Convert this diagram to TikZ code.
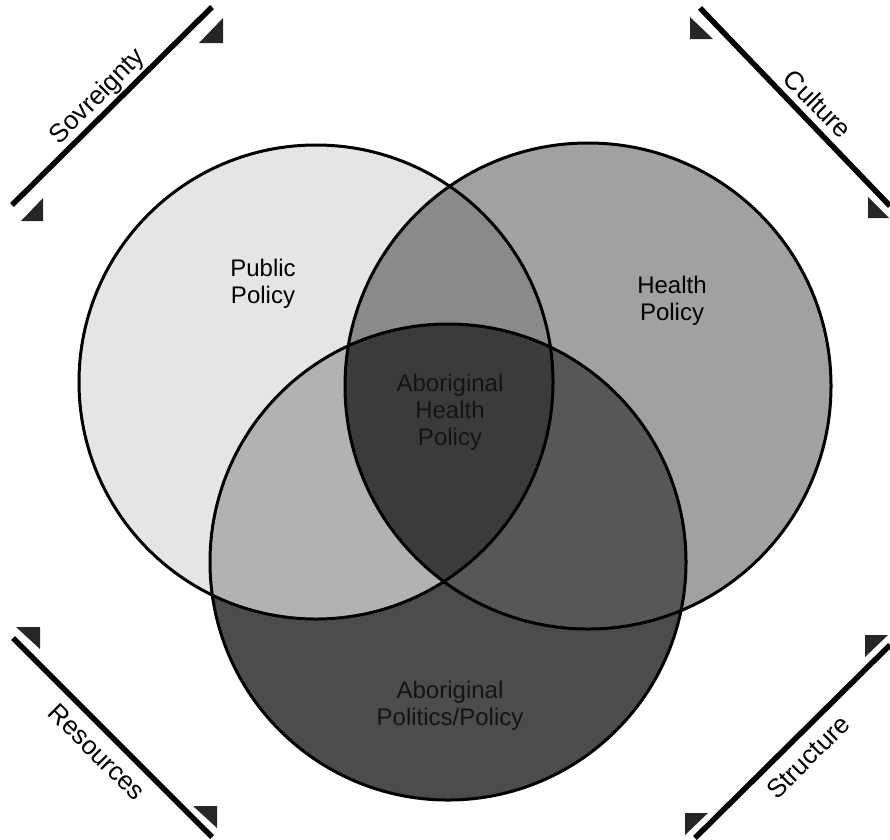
\documentclass[tikz,border=0pt]{standalone}
\usepackage{fontspec}
\setmainfont{Liberation Sans}
\definecolor{pubc}{gray}{0.90}
\definecolor{healc}{gray}{0.63}
\definecolor{botc}{gray}{0.30}
\definecolor{pbc}{gray}{0.70}
\definecolor{hbc}{gray}{0.34}
\definecolor{phc}{gray}{0.54}
\definecolor{phbc}{gray}{0.23}
\definecolor{bartxt}{gray}{0.08}
\tikzset{
  ring/.style={circle, draw=black, line width=3pt, inner sep=0pt},
  lbl/.style={align=center, font=\fontsize{24}{27}\selectfont, text=black},
  dlbl/.style={align=center, font=\fontsize{24}{27}\selectfont, text=bartxt},
  bar/.style={line width=5.5pt, black},
  tip/.style={fill=black!85},
  side/.style={font=\fontsize{26}{28}\selectfont, inner sep=1pt}
}
\begin{document}
\begin{tikzpicture}[x=1pt,y=-1pt]
\useasboundingbox (0,0) rectangle (890,839);
% centres
\coordinate (cp) at (316,382);
\coordinate (ch) at (588,386);
\coordinate (cb) at (448,562);
% base fills
\fill[pubc] (cp) circle[radius=237pt];
\fill[healc] (ch) circle[radius=243pt];
\fill[botc] (cb) circle[radius=238pt];
% overlaps
\begin{scope}
  \clip (cp) circle[radius=237pt];
  \fill[pbc] (cb) circle[radius=238pt];
  \fill[phc] (ch) circle[radius=243pt];
\end{scope}
\begin{scope}
  \clip (ch) circle[radius=243pt];
  \fill[hbc] (cb) circle[radius=238pt];
\end{scope}
\begin{scope}
  \clip (cp) circle[radius=237pt];
  \clip (ch) circle[radius=243pt];
  \fill[phbc] (cb) circle[radius=238pt];
\end{scope}
% outlines
\node[ring, minimum size=474pt] (pub) at (cp) {};
\node[ring, minimum size=486pt] (hea) at (ch) {};
\node[ring, minimum size=476pt] (bot) at (cb) {};
% texts
\node[lbl] (tpub) at (263,284) {Public\\Policy};
\node[lbl] (thea) at (672,301) {Health\\Policy};
\node[dlbl] (tabh) at (450,412) {Aboriginal\\Health\\Policy};
\node[dlbl] (tabp) at (450,706) {Aboriginal\\Politics/Policy};
% corner bars
\coordinate (s1) at (12,205);
\coordinate (s2) at (212,7);
\draw[bar] (s1) -- (s2);
\fill[tip] (223,18) -- (223,43) -- (199,43) -- cycle;
\fill[tip] (21,221) -- (43,198) -- (43,221) -- cycle;
\node[side, rotate=45] (tsov) at (98,97) {Sovreignty};
\coordinate (c1) at (700,8);
\coordinate (c2) at (890,206);
\draw[bar] (c1) -- (c2);
\fill[tip] (690,17) -- (690,39) -- (713,39) -- cycle;
\fill[tip] (868,197) -- (868,218) -- (889,218) -- cycle;
\node[side, rotate=-45] (tcul) at (818,104) {Culture};
\coordinate (r1) at (13,638);
\coordinate (r2) at (212,837);
\draw[bar] (r1) -- (r2);
\fill[tip] (16,627) -- (40,627) -- (40,649) -- cycle;
\fill[tip] (193,806) -- (217,806) -- (217,828) -- cycle;
\node[side, rotate=-45] (tres) at (97,752) {Resources};
\coordinate (t1) at (695,838);
\coordinate (t2) at (890,645);
\draw[bar] (t1) -- (t2);
\fill[tip] (865,635) -- (888,635) -- (865,657) -- cycle;
\fill[tip] (685,813) -- (708,813) -- (685,835) -- cycle;
\node[side, rotate=45] (tstr) at (808,757) {Structure};
\end{tikzpicture}
\end{document}
